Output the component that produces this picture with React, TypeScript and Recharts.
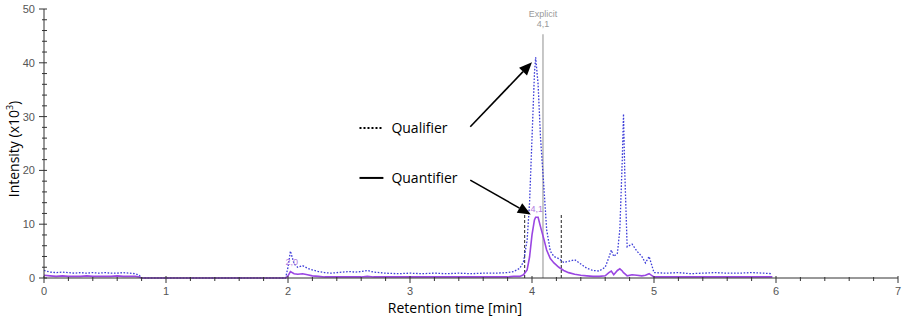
import React from "react";
import {
  LineChart,
  Line,
  XAxis,
  YAxis,
  ReferenceLine,
  ReferenceDot,
} from "recharts";

// retention time [min]
const times = [
  0.0, 0.05, 0.1, 0.15, 0.2, 0.25, 0.3, 0.35, 0.4, 0.45, 0.5, 0.55, 0.6, 0.65, 0.7, 0.75, 0.78, 0.8,
  1.0, 1.5, 1.98, 2.0, 2.02, 2.05, 2.08, 2.12, 2.16, 2.2, 2.25, 2.3, 2.35, 2.4, 2.45, 2.5, 2.55,
  2.6, 2.65, 2.7, 2.75, 2.8, 2.9, 3.0, 3.1, 3.2, 3.3, 3.4, 3.5, 3.6, 3.7, 3.8, 3.85, 3.9, 3.93,
  3.96, 3.98, 4.0, 4.02, 4.03, 4.05, 4.07, 4.1, 4.12, 4.15, 4.18, 4.22, 4.26, 4.3, 4.35, 4.4,
  4.45, 4.5, 4.55, 4.6, 4.63, 4.65, 4.67, 4.7, 4.72, 4.74, 4.75, 4.76, 4.78, 4.82, 4.86, 4.9,
  4.93, 4.96, 4.98, 5.0, 5.1, 5.2, 5.3, 5.4, 5.5, 5.6, 5.7, 5.8, 5.9, 5.97,
];

// intensity x10^3
const qualifier = [
  1.4, 1.1, 1.0, 1.1, 1.0, 0.9, 1.0, 0.9, 1.0, 0.9, 1.0, 0.9, 0.9, 1.0, 0.9, 0.8, 0.5, 0.0,
  0.0, 0.0, 0.0, 2.0, 5.0, 2.6, 2.0, 2.3, 1.8, 1.5, 1.2, 1.0, 0.9, 1.0, 1.1, 1.2, 1.1,
  1.2, 1.4, 1.1, 1.0, 0.9, 0.8, 0.9, 0.8, 0.9, 0.8, 0.9, 0.8, 0.9, 0.9, 1.0, 1.2, 1.8, 3.0,
  7.0, 14.0, 26.0, 38.0, 41.0, 36.0, 26.0, 16.0, 9.0, 5.0, 4.0, 3.6, 2.9, 3.1, 3.4, 2.6,
  1.8, 1.4, 1.3, 2.0, 3.8, 5.2, 4.0, 4.6, 9.0, 22.0, 30.5, 20.0, 5.8, 6.3, 5.0, 4.0,
  2.8, 4.0, 2.5, 1.0, 0.9, 1.0, 0.8, 0.9, 1.0, 0.9, 0.9, 1.0, 0.9, 0.8,
];

const quantifier = [
  0.5, 0.4, 0.3, 0.4, 0.3, 0.3, 0.3, 0.4, 0.3, 0.3, 0.3, 0.3, 0.4, 0.3, 0.3, 0.3, 0.2, 0.0,
  0.0, 0.0, 0.0, 0.4, 1.2, 0.8, 0.7, 0.8, 0.6, 0.4, 0.3, 0.2, 0.2, 0.2, 0.2, 0.2, 0.2,
  0.2, 0.3, 0.2, 0.2, 0.2, 0.2, 0.2, 0.2, 0.2, 0.2, 0.2, 0.2, 0.2, 0.2, 0.2, 0.3, 0.3, 0.6,
  1.5, 3.9, 8.0, 10.8, 11.3, 11.3, 9.5, 7.0, 5.2, 3.6, 2.8, 2.0, 1.4, 1.0, 0.7, 0.5,
  0.4, 0.3, 0.3, 0.4, 1.0, 1.3, 0.6, 1.4, 1.7, 1.3, 1.0, 0.8, 0.4, 0.6, 0.5, 0.4,
  0.5, 0.8, 0.5, 0.2, 0.2, 0.2, 0.2, 0.2, 0.2, 0.2, 0.2, 0.2, 0.2, 0.2,
];

const xMajor = [0, 1, 2, 3, 4, 5, 6, 7];
const yMajor = [0, 10, 20, 30, 40, 50];

const data = times.map((t, i) => ({ t, qual: qualifier[i], quant: quantifier[i] }));

const xTicks: number[] = [];
for (let i = 0; i <= 35; i++) xTicks.push(Math.round(i * 20) / 100);
const yTicks: number[] = [];
for (let i = 0; i <= 25; i++) yTicks.push(i * 2);

const AXIS = "#333";
const TICK_TEXT = "#555";
const BLUE = "#3c3cd8";
const PURPLE = "#9a46e2";
const LABEL_FONT = "Open Sans, sans-serif";

const XTick = ({ x, y, payload }: any) => {
  const v = payload.value;
  const major = xMajor.some((m) => Math.abs(m - v) < 1e-6);
  return (
    <g>
      <line x1={x} x2={x} y1={y - (major ? 2 : 1)} y2={y + (major ? 5 : 3)} stroke={AXIS} />
      {major && (
        <text x={x} y={y + 17} textAnchor="middle" fontSize={11} fill={TICK_TEXT} fontFamily="Liberation Sans, Arial, sans-serif">
          {Math.round(v)}
        </text>
      )}
    </g>
  );
};

const YTick = ({ x, y, payload }: any) => {
  const v = payload.value;
  const major = yMajor.includes(v);
  return (
    <g>
      <line x1={x - (major ? 5 : 2)} x2={x + 3} y1={y} y2={y} stroke={AXIS} />
      {major && (
        <text x={x - 9} y={y + 4} textAnchor="end" fontSize={11} fill={TICK_TEXT} fontFamily="Liberation Sans, Arial, sans-serif">
          {v}
        </text>
      )}
    </g>
  );
};

const Arrow = ({ x1, y1, x2, y2 }: any) => {
  const a = Math.atan2(y2 - y1, x2 - x1);
  const len = 13;
  const w = 5.5;
  const bx = x2 - len * Math.cos(a);
  const by = y2 - len * Math.sin(a);
  const px = -Math.sin(a) * w;
  const py = Math.cos(a) * w;
  return (
    <g>
      <line x1={x1} y1={y1} x2={bx} y2={by} stroke="#000" strokeWidth={1.6} />
      <polygon points={`${x2},${y2} ${bx + px},${by + py} ${bx - px},${by - py}`} fill="#000" />
    </g>
  );
};

const legendShape = (label: string, dash?: string) => ({ x1, y1, x2, y2 }: any) => (
  <g>
    <line x1={x1} y1={y1} x2={x2} y2={y2} stroke="#000" strokeWidth={2} strokeDasharray={dash} />
    <text x={x2 + 8} y={y2 + 5} fontSize={14} fill="#000" fontFamily={LABEL_FONT}>
      {label}
    </text>
  </g>
);

const noteShape = (lines: string[], color: string) => ({ cx, cy }: any) => (
  <text x={cx} y={cy} textAnchor="middle" fontSize={9} fill={color} fontFamily="Liberation Sans, Arial, sans-serif">
    {lines.map((l, i) => (
      <tspan key={i} x={cx} dy={i === 0 ? 0 : 10}>
        {l}
      </tspan>
    ))}
  </text>
);

export default function App() {
  return (
    <div style={{ position: "absolute", left: 0, top: 0, width: 906, height: 321, background: "#fff" }}>
      <LineChart width={906} height={321} data={data} margin={{ top: 9, right: 8, left: 0, bottom: 0 }}>
        <XAxis
          dataKey="t"
          type="number"
          domain={[0, 7]}
          ticks={xTicks}
          interval={0}
          tickSize={0}
          tickMargin={0}
          tickLine={false}
          tick={<XTick />}
          height={43}
          stroke={AXIS}
          label={{
            content: ({ viewBox }: any) => (
              <text x={viewBox.x + 411} y={viewBox.y + 35} textAnchor="middle" fontSize={14} fill="#000" fontFamily={LABEL_FONT}>
                Retention time [min]
              </text>
            ),
          }}
        />
        <YAxis
          type="number"
          domain={[0, 50]}
          ticks={yTicks}
          interval={0}
          tickSize={0}
          tickMargin={0}
          tickLine={false}
          tick={<YTick />}
          width={44}
          stroke={AXIS}
          label={{
            content: ({ viewBox }: any) => {
              const cx = viewBox.x + 19;
              const cy = viewBox.y + 140;
              return (
                <text x={cx} y={cy} transform={`rotate(-90 ${cx} ${cy})`} textAnchor="middle" fontSize={14} fill="#000" fontFamily={LABEL_FONT}>
                  Intensity (x10
                  <tspan fontSize={9} dy={-6}>3</tspan>
                  <tspan dy={6}>)</tspan>
                </text>
              );
            },
          }}
        />
        <ReferenceLine segment={[{ x: 4.09, y: 0 }, { x: 4.09, y: 45.3 }]} stroke="#b5b5b5" strokeWidth={1.5} />
        <ReferenceLine segment={[{ x: 3.94, y: 0 }, { x: 3.94, y: 11.8 }]} stroke="#222" strokeDasharray="3 2" />
        <ReferenceLine segment={[{ x: 4.24, y: 0 }, { x: 4.24, y: 11.8 }]} stroke="#222" strokeDasharray="3 2" />
        <Line dataKey="qual" type="linear" stroke={BLUE} strokeWidth={1.3} strokeDasharray="1.6 1.6" dot={false} isAnimationActive={false} />
        <Line dataKey="quant" type="linear" stroke={PURPLE} strokeWidth={1.6} dot={false} isAnimationActive={false} />
        <ReferenceDot x={4.09} y={48.6} r={0} shape={noteShape(["Explicit", "4,1"], "#999")} />
        <ReferenceDot x={4.04} y={12.2} r={0} shape={noteShape(["4,1"], "#b07ae0")} />
        <ReferenceDot x={2.03} y={2.4} r={0} shape={noteShape(["2,0"], "#b07ae0")} />
        <ReferenceLine segment={[{ x: 3.494, y: 28.1 }, { x: 4.0, y: 40.1 }]} shape={Arrow} />
        <ReferenceLine segment={[{ x: 3.494, y: 18.2 }, { x: 3.99, y: 11.8 }]} shape={Arrow} />
        <ReferenceLine segment={[{ x: 2.586, y: 27.9 }, { x: 2.782, y: 27.9 }]} shape={legendShape("Qualifier", "2 2")} />
        <ReferenceLine segment={[{ x: 2.586, y: 18.6 }, { x: 2.782, y: 18.6 }]} shape={legendShape("Quantifier")} />
      </LineChart>
    </div>
  );
}
